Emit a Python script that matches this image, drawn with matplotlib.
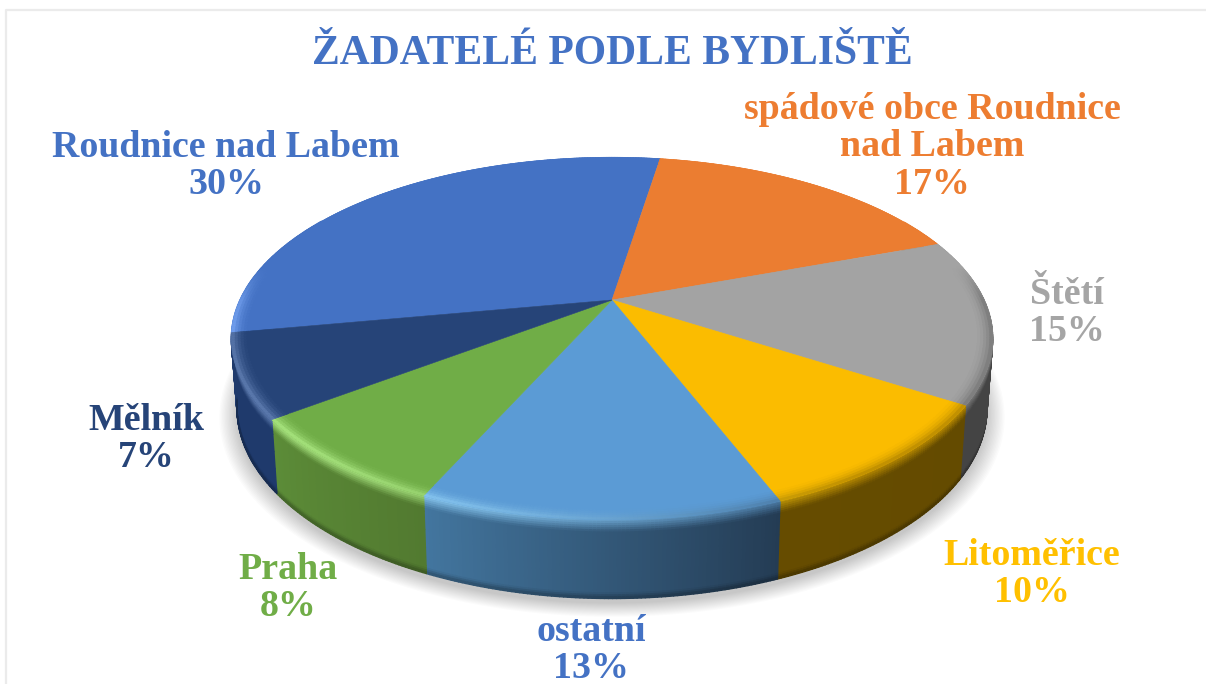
import numpy as np
import matplotlib
matplotlib.use("Agg")
import matplotlib.pyplot as plt
from matplotlib.collections import PolyCollection
from matplotlib.colors import to_rgb

# data
categories = ["Roudnice nad Labem", "spádové obce Roudnice\nnad Labem", "Štětí", "Litoměřice", "ostatní", "Praha", "Mělník"]
values = [30.4, 16.9, 14.7, 10.0, 12.6, 8.0, 7.4]
colors = ["#4472C4", "#EB7D31", "#A3A3A3", "#FBBC00", "#5B9BD5", "#70AD47", "#264478"]
label_colors = ["#4472C4", "#ED7D31", "#A5A5A5", "#FFC000", "#4472C4", "#70AD47", "#264478"]
wall_start = ["#2A5190", "#A9561F", "#444444", "#644B00", "#243C54", "#527A30", "#1F3A6C"]
wall_end = ["#2A5190", "#A9561F", "#444444", "#664C00", "#43769F", "#5C8C38", "#1F3A6C"]
label_pos = [(226, 166), (932, 147), (1067, 313), (1032, 574), (591, 650), (288, 588), (146, 439)]

title = "ŽADATELÉ PODLE BYDLIŠTĚ"

# perspective of the pie, in image pixels
cx, cy = 612, 300
a, b, k = 372, 173, 0.212
start = -100.44  # degrees clockwise from top


def project(theta, r=1.0, z=0.0):
    # theta in degrees clockwise from top, z = 0 top face, z = 1 bottom of wall
    t = np.radians(90 - theta)
    px = r * np.cos(t)
    py = r * np.sin(t)
    X = a * px / (1 + k * py)
    Y = b * py / (1 + k * py)
    return cx + X * (1 - 0.015 * z), cy - (Y * (1 + 0.05 * z) - 68 * z)


def mix(c1, c2, f):
    return np.array(c1) * (1 - f) + np.array(c2) * f


def front_weight(theta):
    # 0 on the back of the pie, 1 on the front
    v = np.clip((-np.cos(np.radians(theta)) + 0.2) / 0.2, 0, 1)
    return v


def highlight(theta):
    # light comes from the front left
    return np.clip(np.cos(np.radians(theta - 235)), 0, 1) ** 1.5


fig = plt.figure(figsize=(12.06, 6.84), dpi=100)
ax = fig.add_axes([0, 0, 1, 1])
ax.set_xlim(0, 1206)
ax.set_ylim(684, 0)
ax.axis("off")

# frame of the slide
ax.plot([6, 6, 1206], [684, 10, 10], color="#EBEBEB", lw=1.6, zorder=1)

# soft shadow under the pie
ring = np.linspace(0, 360, 361)
for r in np.linspace(1.045, 1.0, 14):
    sx, sy = project(ring, r, 1)
    ax.fill(sx, sy + 5, color="black", alpha=0.017, lw=0, zorder=2)

angles = np.cumsum([0] + values) / 100 * 360 + start

# walls and bevel
wall_polys, wall_cols = [], []
band_polys, band_cols = [], []
rows = np.concatenate([np.linspace(0, 0.16, 7), np.linspace(0.2, 0.9, 4), np.linspace(0.93, 1, 4)])
bevel = np.linspace(0.955, 1, 7)
for i in range(len(values)):
    face = to_rgb(colors[i])
    n = max(int(angles[i + 1] - angles[i]) * 2, 4)
    th = np.linspace(angles[i], angles[i + 1], n + 1)
    for t0, t1 in zip(th[:-1], th[1:]):
        tm = (t0 + t1) / 2
        frac = (tm - angles[i]) / (angles[i + 1] - angles[i])
        wall = mix(to_rgb(wall_start[i]), to_rgb(wall_end[i]), frac)
        w = front_weight(tm)
        h = highlight(tm)
        light = np.clip(np.array(face) + 0.24, 0, 1)
        edge = mix(mix(face, wall, 0.45), light, h)
        edge = mix(face, edge, w)
        for r0, r1 in zip(bevel[:-1], bevel[1:]):
            x0, y0 = project(t0, r0)
            x1, y1 = project(t1, r0)
            x2, y2 = project(t1, r1)
            x3, y3 = project(t0, r1)
            f = ((r0 + r1) / 2 - bevel[0]) / (bevel[-1] - bevel[0])
            band_polys.append([(x0, y0), (x1, y1), (x2, y2), (x3, y3)])
            band_cols.append(mix(face, edge, f ** 2))
        if 60 < tm % 360 < 300:
            for z0, z1 in zip(rows[:-1], rows[1:]):
                x0, y0 = project(t0, 1, z0)
                x1, y1 = project(t1, 1, z0)
                x2, y2 = project(t1, 1, z1)
                x3, y3 = project(t0, 1, z1)
                zm = (z0 + z1) / 2
                col = mix(edge, wall, min(zm / 0.16, 1))
                if zm > 0.93:
                    col = col * (1 - 0.3 * (zm - 0.93) / 0.07)
                wall_polys.append([(x0, y0), (x1, y1), (x2, y2), (x3, y3)])
                wall_cols.append(col)

ax.add_collection(PolyCollection(wall_polys, facecolors=wall_cols, edgecolors=wall_cols, linewidths=1.0, zorder=3))

# top faces
for i in range(len(values)):
    th = np.linspace(angles[i], angles[i + 1], 200)
    x, y = project(th)
    ax.fill(np.r_[cx, x], np.r_[cy, y], facecolor=colors[i], edgecolor=colors[i], lw=0.4, zorder=4)

ax.add_collection(PolyCollection(band_polys, facecolors=band_cols, edgecolors=band_cols, linewidths=0.5, zorder=5))

# texts
font = "Liberation Serif"
ax.text(612, 54, title, color="#4472C4", fontsize=30, fontweight="bold", family=font,
        ha="center", va="center", zorder=6)
for i, name in enumerate(categories):
    ax.text(label_pos[i][0], label_pos[i][1], name + "\n" + str(round(values[i])) + "%",
            color=label_colors[i], fontsize=27.3, fontweight="bold", family=font,
            ha="center", va="center", linespacing=1.09, zorder=6)

fig.savefig("out.png", dpi=100, facecolor="white")
